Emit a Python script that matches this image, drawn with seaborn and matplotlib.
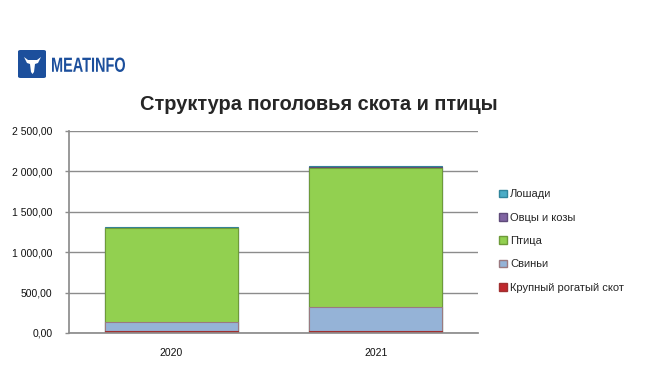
import numpy as np
import pandas as pd
import seaborn as sns
import matplotlib.pyplot as plt
from matplotlib.patches import FancyBboxPatch, Polygon, Patch, PathPatch
from matplotlib.textpath import TextPath
from matplotlib.font_manager import FontProperties
from matplotlib.transforms import Affine2D
from matplotlib.ticker import FuncFormatter

years = ["2020", "2021"]
series = ["Крупный рогатый скот", "Свиньи", "Птица", "Овцы и козы", "Лошади"]
cattle = [25, 25]
pigs = [105, 297]
poultry = [1170, 1726]
sheep = [2, 3]
horses = [10, 16]
colors = ["#c0282d", "#95b3d7", "#92d050", "#8064a2", "#4bacc6"]
edges = ["#a03030", "#9a7a80", "#6e9a3a", "#5f4b7a", "#31859c"]

sns.set_theme(style="white")
plt.rcParams["font.family"] = ["Liberation Sans", "DejaVu Sans"]

vals = np.array([cattle, pigs, poultry, sheep, horses], dtype=float)
cum = vals.cumsum(axis=0)

fig = plt.figure(figsize=(6.61, 3.65), dpi=100)
ax = fig.add_axes([69 / 661, 1 - 333 / 365, 409 / 661, 202 / 365])

# draw tallest first so smaller stacks sit on top
for i in range(len(series) - 1, -1, -1):
    df = pd.DataFrame({"year": years, "value": cum[i]})
    sns.barplot(data=df, x="year", y="value", color=colors[i], width=0.65,
                edgecolor=edges[i], linewidth=0.8, saturation=1, ax=ax)

ax.set_ylim(0, 2500)
ax.set_yticks(np.arange(0, 2501, 500))
ax.yaxis.set_major_formatter(FuncFormatter(
    lambda v, p: f"{v:,.2f}".replace(",", " ").replace(".", ",")))
ax.grid(axis="y", color="#8c8c8c", linewidth=1)
ax.set_axisbelow(True)
for s in ["top", "right"]:
    ax.spines[s].set_visible(False)
for s in ["bottom", "left"]:
    ax.spines[s].set_color("#8c8c8c")
ax.tick_params(axis="y", labelsize=7.5, colors="#8c8c8c", labelcolor="#111111",
               length=3, width=1, pad=9, left=True)
ax.tick_params(axis="x", labelsize=7.5, labelcolor="#111111", length=0, pad=11)
ax.set_xlabel("")
ax.set_ylabel("")

handles = [Patch(facecolor=colors[i], edgecolor=edges[i]) for i in range(len(series) - 1, -1, -1)]
labels = [series[i] for i in range(len(series) - 1, -1, -1)]
fig.legend(handles, labels, loc="center left", bbox_to_anchor=(489 / 661, 1 - 241 / 365),
           frameon=False, fontsize=8, handlelength=0.7, handleheight=0.7,
           handletextpad=0.3, labelspacing=1.2)

fig.text(319 / 661, 1 - 104 / 365, "Структура поголовья скота и птицы",
         ha="center", va="center", fontsize=14.4, fontweight="bold")

# logo
fig.patches.append(FancyBboxPatch((18 / 661, 1 - 78 / 365), 28 / 661, 28 / 365,
                                  boxstyle="round,pad=0,rounding_size=0.004",
                                  transform=fig.transFigure, facecolor="#1c4f9c",
                                  edgecolor="none"))
head = [(24, 57), (28, 60), (30, 60), (35, 60), (37, 60), (41, 57), (38, 63),
        (35, 64), (34, 72), (32.5, 74), (31, 72), (30, 64), (27, 63)]
fig.patches.append(Polygon([(x / 661, 1 - y / 365) for x, y in head], closed=True,
                           transform=fig.transFigure, facecolor="white", edgecolor="none"))
tp = TextPath((0, 0), "MEATINFO", size=10, prop=FontProperties(family="Liberation Sans", weight="bold"))
bb = tp.get_extents()
# squeeze the logo word into a condensed box (pixels 52..125 wide, 57..72 tall)
tr = (Affine2D().translate(-bb.x0, -bb.y0)
      .scale(73 / bb.width, 14.5 / bb.height)
      .translate(52, 365 - 72))
fig.patches.append(PathPatch(tr.transform_path(tp), transform=None,
                             facecolor="#1c4f9c", edgecolor="none"))

fig.savefig("out.png", dpi=100)
